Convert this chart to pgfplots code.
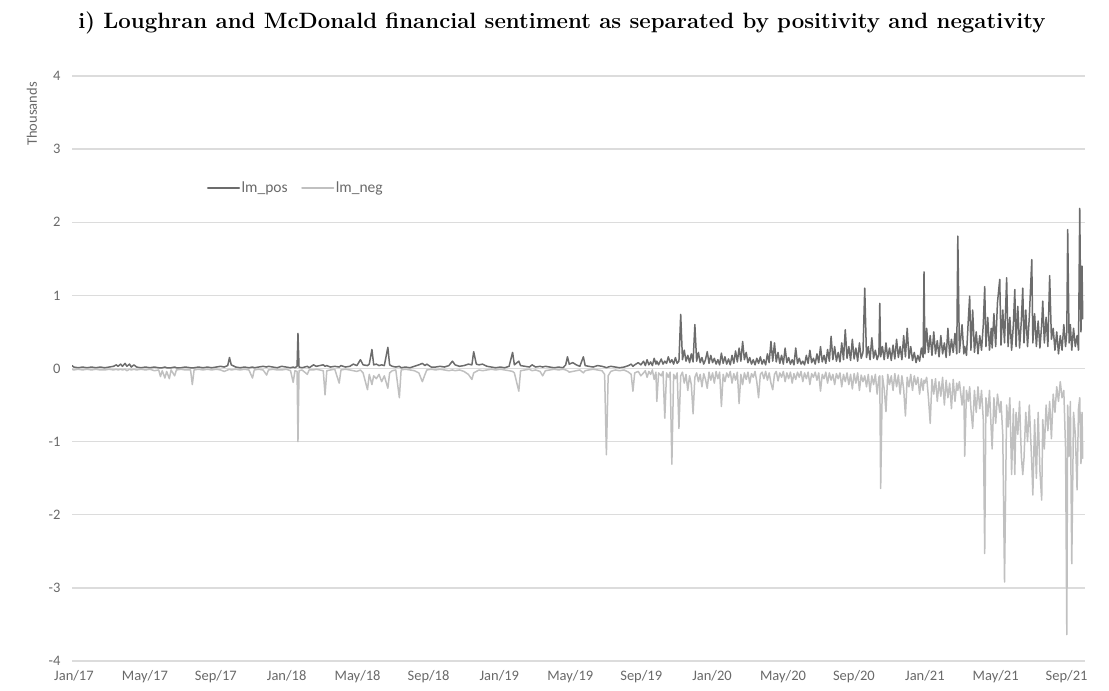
\documentclass[border=0pt]{standalone}
\usepackage{pgfplots}
\usepackage{pgfplotstable}
\pgfplotsset{compat=1.18}
\usepackage{fontspec}
\newfontfamily\calibri{Carlito}

\definecolor{posline}{RGB}{108,108,108}
\definecolor{negline}{RGB}{192,192,192}
\definecolor{gridc}{RGB}{220,220,220}
\definecolor{labelc}{RGB}{105,105,105}

% Loughran-McDonald word counts (thousands); m = months since Jan 2017
\pgfplotstableread{
m pos neg
0.00 0.04 -0.01
0.10 0.02 -0.02
0.35 0.01 -0.01
0.60 0.02 -0.02
0.85 0.01 -0.01
1.10 0.02 -0.02
1.35 0.01 -0.01
1.60 0.02 -0.02
1.85 0.01 -0.02
2.10 0.02 -0.01
2.35 0.03 -0.02
2.50 0.05 -0.01
2.60 0.03 -0.02
2.75 0.06 -0.01
2.85 0.03 -0.02
3.00 0.07 -0.01
3.10 0.03 -0.03
3.25 0.06 -0.01
3.35 0.02 -0.02
3.50 0.05 -0.01
3.65 0.02 -0.02
3.90 0.01 -0.01
4.15 0.02 -0.02
4.40 0.01 -0.01
4.65 0.02 -0.03
4.90 0.01 -0.02
5.00 0.01 -0.11
5.10 0.01 -0.03
5.25 0.02 -0.13
5.35 0.01 -0.04
5.50 0.01 -0.14
5.60 0.01 -0.02
5.80 0.02 -0.10
5.90 0.01 -0.02
6.15 0.01 -0.01
6.40 0.02 -0.02
6.70 0.01 -0.02
6.80 0.01 -0.22
6.90 0.01 -0.02
7.15 0.02 -0.01
7.40 0.01 -0.02
7.65 0.02 -0.01
7.90 0.01 -0.02
8.15 0.02 -0.01
8.40 0.03 -0.02
8.60 0.02 -0.04
8.80 0.04 -0.02
8.90 0.15 -0.01
9.00 0.05 -0.02
9.25 0.02 -0.01
9.50 0.01 -0.02
9.75 0.02 -0.01
10.00 0.01 -0.02
10.20 0.02 -0.13
10.30 0.01 -0.02
10.55 0.02 -0.01
10.80 0.03 -0.02
11.00 0.02 -0.09
11.10 0.03 -0.02
11.35 0.02 -0.01
11.60 0.01 -0.02
11.85 0.03 -0.02
12.10 0.02 -0.01
12.35 0.01 -0.03
12.50 0.02 -0.19
12.60 0.01 -0.03
12.72 0.03 -0.04
12.77 0.48 -1.00
12.83 0.02 -0.03
13.00 0.01 -0.02
13.30 0.03 -0.08
13.40 0.01 -0.02
13.65 0.05 -0.02
13.80 0.03 -0.01
14.00 0.04 -0.02
14.20 0.05 -0.03
14.30 0.03 -0.36
14.40 0.04 -0.03
14.60 0.02 -0.02
14.85 0.03 -0.01
15.10 0.02 -0.20
15.20 0.04 -0.02
15.45 0.02 -0.01
15.70 0.03 -0.02
15.90 0.06 -0.03
16.10 0.04 -0.04
16.30 0.12 -0.02
16.45 0.05 -0.06
16.70 0.04 -0.29
16.80 0.06 -0.08
16.95 0.26 -0.22
17.05 0.05 -0.10
17.20 0.06 -0.14
17.35 0.04 -0.08
17.50 0.05 -0.18
17.65 0.04 -0.10
17.85 0.29 -0.27
17.95 0.05 -0.06
18.10 0.03 -0.03
18.30 0.02 -0.02
18.50 0.03 -0.40
18.60 0.01 -0.02
18.85 0.02 -0.01
19.10 0.01 -0.02
19.35 0.03 -0.03
19.60 0.05 -0.06
19.80 0.07 -0.18
19.95 0.04 -0.08
20.05 0.06 -0.02
20.30 0.02 -0.01
20.55 0.02 -0.02
20.80 0.03 -0.01
21.05 0.02 -0.02
21.30 0.04 -0.03
21.50 0.10 -0.02
21.65 0.05 -0.03
21.90 0.03 -0.02
22.15 0.04 -0.04
22.40 0.06 -0.08
22.60 0.05 -0.15
22.70 0.23 -0.06
22.85 0.06 -0.04
23.00 0.05 -0.02
23.20 0.06 -0.03
23.45 0.03 -0.02
23.70 0.02 -0.01
23.95 0.01 -0.02
24.20 0.02 -0.01
24.45 0.01 -0.02
24.70 0.03 -0.03
24.90 0.22 -0.04
25.00 0.05 -0.06
25.25 0.10 -0.31
25.35 0.04 -0.03
25.60 0.03 -0.02
25.85 0.02 -0.01
26.00 0.05 -0.03
26.20 0.02 -0.02
26.45 0.03 -0.04
26.60 0.02 -0.10
26.75 0.03 -0.03
27.00 0.02 -0.02
27.25 0.01 -0.01
27.50 0.02 -0.02
27.75 0.01 -0.01
27.90 0.05 -0.02
28.00 0.16 -0.03
28.10 0.06 -0.05
28.30 0.08 -0.04
28.50 0.05 -0.03
28.70 0.03 -0.02
28.90 0.16 -0.06
29.00 0.04 -0.03
29.20 0.03 -0.02
29.45 0.02 -0.01
29.70 0.04 -0.02
29.95 0.03 -0.03
30.10 0.02 -0.08
30.20 0.01 -1.18
30.30 0.02 -0.10
30.45 0.03 -0.04
30.70 0.02 -0.02
30.95 0.01 -0.03
31.20 0.02 -0.02
31.45 0.04 -0.05
31.60 0.06 -0.08
31.70 0.03 -0.31
31.80 0.05 -0.06
32.00 0.08 -0.04
32.15 0.05 -0.10
32.30 0.10 -0.06
32.40 0.04 -0.03
32.50 0.12 -0.12
32.60 0.05 -0.04
32.70 0.09 -0.08
32.80 0.04 -0.02
32.90 0.14 -0.15
33.00 0.06 -0.05
33.05 0.10 -0.45
33.15 0.05 -0.06
33.30 0.13 -0.10
33.40 0.06 -0.04
33.50 0.10 -0.68
33.60 0.07 -0.06
33.70 0.16 -0.12
33.80 0.08 -0.05
33.90 0.12 -1.31
34.00 0.06 -0.08
34.10 0.15 -0.14
34.20 0.07 -0.06
34.30 0.10 -0.82
34.40 0.74 -0.10
34.50 0.12 -0.05
34.60 0.25 -0.20
34.70 0.10 -0.08
34.80 0.18 -0.30
34.90 0.08 -0.10
35.00 0.20 -0.22
35.10 0.09 -0.62
35.20 0.60 -0.12
35.30 0.10 -0.06
35.40 0.22 -0.18
35.50 0.08 -0.08
35.60 0.15 -0.25
35.70 0.06 -0.07
35.80 0.12 -0.15
35.90 0.23 -0.27
36.00 0.07 -0.05
36.10 0.18 -0.16
36.20 0.08 -0.06
36.30 0.14 -0.20
36.40 0.06 -0.04
36.50 0.12 -0.14
36.60 0.05 -0.05
36.70 0.21 -0.52
36.80 0.07 -0.08
36.90 0.16 -0.18
37.00 0.06 -0.06
37.10 0.13 -0.12
37.20 0.05 -0.04
37.30 0.18 -0.20
37.40 0.07 -0.07
37.50 0.24 -0.16
37.60 0.09 -0.05
37.70 0.28 -0.48
37.80 0.10 -0.08
37.90 0.37 -0.22
38.00 0.12 -0.06
38.10 0.22 -0.15
38.20 0.08 -0.05
38.30 0.15 -0.20
38.40 0.06 -0.07
38.50 0.12 -0.12
38.60 0.05 -0.04
38.70 0.14 -0.18
38.80 0.07 -0.40
38.90 0.16 -0.08
39.00 0.06 -0.05
39.10 0.12 -0.14
39.20 0.05 -0.04
39.30 0.20 -0.16
39.40 0.08 -0.06
39.50 0.37 -0.20
39.60 0.10 -0.29
39.70 0.35 -0.08
39.80 0.09 -0.04
39.90 0.22 -0.17
40.00 0.07 -0.06
40.10 0.18 -0.12
40.20 0.06 -0.04
40.30 0.28 -0.18
40.40 0.08 -0.06
40.50 0.15 -0.14
40.60 0.06 -0.05
40.70 0.12 -0.20
40.80 0.05 -0.07
40.90 0.28 -0.15
41.00 0.07 -0.05
41.10 0.14 -0.12
41.20 0.06 -0.04
41.30 0.10 -0.18
41.40 0.05 -0.06
41.50 0.18 -0.14
41.60 0.07 -0.05
41.70 0.25 -0.22
41.80 0.08 -0.07
41.90 0.14 -0.12
42.00 0.06 -0.05
42.10 0.20 -0.16
42.20 0.08 -0.06
42.30 0.30 -0.31
42.40 0.09 -0.08
42.50 0.18 -0.14
42.60 0.07 -0.05
42.70 0.26 -0.20
42.80 0.10 -0.06
42.90 0.44 -0.16
43.00 0.12 -0.08
43.10 0.30 -0.22
43.20 0.10 -0.07
43.30 0.22 -0.14
43.40 0.09 -0.06
43.50 0.35 -0.25
43.60 0.12 -0.08
43.70 0.53 -0.18
43.80 0.14 -0.06
43.90 0.30 -0.22
44.00 0.11 -0.08
44.10 0.40 -0.28
44.20 0.13 -0.07
44.30 0.28 -0.20
44.40 0.10 -0.06
44.50 0.35 -0.30
44.60 0.14 -0.09
44.70 0.22 -0.18
44.80 1.10 -0.10
44.90 0.15 -0.25
45.00 0.30 -0.08
45.10 0.12 -0.32
45.20 0.42 -0.10
45.30 0.14 -0.22
45.40 0.25 -0.08
45.50 0.12 -0.35
45.60 0.20 -0.12
45.65 0.89 -0.10
45.70 0.16 -1.64
45.80 0.30 -0.10
45.90 0.12 -0.28
46.00 0.35 -0.59
46.10 0.14 -0.08
46.20 0.28 -0.22
46.30 0.11 -0.10
46.40 0.32 -0.30
46.50 0.13 -0.07
46.60 0.40 -0.25
46.70 0.15 -0.09
46.80 0.30 -0.35
46.90 0.12 -0.10
47.00 0.45 -0.28
47.10 0.16 -0.65
47.20 0.55 -0.12
47.30 0.14 -0.25
47.40 0.30 -0.08
47.50 0.11 -0.30
47.60 0.22 -0.10
47.70 0.08 -0.22
47.80 0.18 -0.12
47.90 0.10 -0.35
48.00 0.28 -0.14
48.10 0.15 -0.30
48.15 1.32 -0.16
48.20 0.20 -0.20
48.30 0.55 -0.12
48.40 0.22 -0.40
48.50 0.45 -0.75
48.60 0.18 -0.15
48.70 0.50 -0.35
48.80 0.20 -0.14
48.90 0.38 -0.45
49.00 0.16 -0.18
49.10 0.45 -0.38
49.20 0.20 -0.12
49.30 0.35 -0.50
49.40 0.15 -0.16
49.50 0.55 -0.40
49.60 0.18 -0.20
49.70 0.40 -0.55
49.80 0.22 -0.15
49.90 0.48 -0.45
50.00 0.20 -0.20
50.06 1.81 -0.30
50.15 0.22 -0.18
50.30 0.60 -0.50
50.40 0.20 -0.25
50.45 0.30 -1.20
50.55 0.18 -0.30
50.65 0.65 -0.45
50.73 0.99 -0.25
50.80 0.25 -0.55
50.90 0.80 -0.82
51.00 0.22 -0.30
51.10 0.50 -0.60
51.20 0.20 -0.25
51.30 0.45 -0.55
51.40 0.25 -0.30
51.50 0.60 -0.70
51.58 1.12 -2.53
51.65 0.30 -0.40
51.75 0.70 -0.65
51.85 0.25 -0.30
51.95 0.55 -0.85
52.00 0.28 -1.10
52.10 0.75 -0.40
52.20 0.30 -0.75
52.30 0.90 -0.35
52.43 1.22 -0.60
52.50 0.32 -0.45
52.60 0.80 -0.90
52.70 0.35 -2.92
52.82 1.24 -0.50
52.90 0.30 -0.80
53.00 0.70 -0.40
53.10 0.25 -1.45
53.20 0.60 -0.55
53.28 1.08 -1.45
53.35 0.30 -0.60
53.45 0.85 -0.90
53.55 0.28 -0.45
53.65 0.65 -1.20
53.73 1.10 -1.45
53.80 0.35 -1.23
53.90 0.80 -0.60
54.00 0.30 -1.00
54.10 0.70 -0.50
54.24 1.49 -1.30
54.30 0.35 -1.73
54.40 0.75 -0.70
54.50 0.30 -1.50
54.60 0.65 -0.60
54.70 0.28 -1.40
54.80 0.60 -1.80
54.86 0.92 -0.70
54.95 0.35 -1.10
55.05 0.70 -0.50
55.15 0.30 -0.85
55.25 1.27 -0.45
55.35 0.40 -0.96
55.45 0.55 -0.35
55.55 0.25 -0.60
55.65 0.50 -0.25
55.75 0.20 -0.45
55.85 0.45 -0.18
55.95 0.25 -0.40
56.05 0.60 -0.30
56.15 0.30 -1.10
56.22 0.50 -3.64
56.27 1.90 -0.50
56.35 0.35 -1.20
56.42 0.60 -0.45
56.50 0.25 -2.67
56.60 0.55 -0.60
56.70 0.30 -0.90
56.80 0.45 -1.66
56.88 0.25 -0.55
56.95 2.19 -0.40
57.02 0.50 -1.30
57.08 1.40 -0.60
57.12 0.68 -1.23
}\lmdata

\begin{document}
\begin{tikzpicture}
\path[use as bounding box] (0,0) rectangle (1109bp,691bp);
\node[font=\bfseries\fontsize{22.2bp}{26bp}\selectfont, anchor=center] at (562bp,668bp)
  {i) Loughran and McDonald financial sentiment as separated by positivity and negativity};
\begin{axis}[
  at={(72bp,30bp)}, anchor=south west,
  scale only axis, width=1013bp, height=585bp,
  xmin=0, xmax=57.25, ymin=-4, ymax=4,
  axis line style={draw=none},
  tick style={draw=none},
  ytick={-4,-3,...,4},
  ymajorgrids,
  major grid style={draw=gridc, line width=1.3bp},
  xtick={0.11,4.12,8.13,12.13,16.14,20.15,24.15,28.16,32.17,36.17,40.18,44.19,48.2,52.2,56.21},
  xticklabels={Jan/17,May/17,Sep/17,Jan/18,May/18,Sep/18,Jan/19,May/19,Sep/19,Jan/20,May/20,Sep/20,Jan/21,May/21,Sep/21},
  /pgf/number format/assume math mode=true,
  ticklabel style={font=\calibri\fontsize{14.5bp}{16bp}\selectfont, text=labelc},
  yticklabel style={xshift=-8bp},
  xticklabel style={yshift=-6bp},
  ylabel={Thousands},
  ylabel style={at={(axis description cs:-0.0395,0.935)}, anchor=center,
    font=\calibri\fontsize{14.5bp}{16bp}\selectfont, text=labelc},
  legend columns=2,
  legend style={at={(axis description cs:0.133,0.8085)}, anchor=west,
    draw=none, fill=none, inner sep=0pt,
    nodes={inner xsep=1.5bp},
    font=\calibri\fontsize{15.5bp}{17bp}\selectfont, text=labelc,
    /tikz/every even column/.append style={column sep=12bp}},
  legend cell align=left,
  legend image code/.code={\draw[#1, line width=2.2bp] (0bp,0bp) -- (31bp,0bp);},
  every axis plot/.append style={line join=round, line cap=round, line width=1.5bp},
]
\addplot[posline, mark=none] table[x=m, y=pos] {\lmdata};
\addlegendentry{lm\_pos}
\addplot[negline, mark=none] table[x=m, y=neg] {\lmdata};
\addlegendentry{lm\_neg}
\end{axis}
\end{tikzpicture}
\end{document}
